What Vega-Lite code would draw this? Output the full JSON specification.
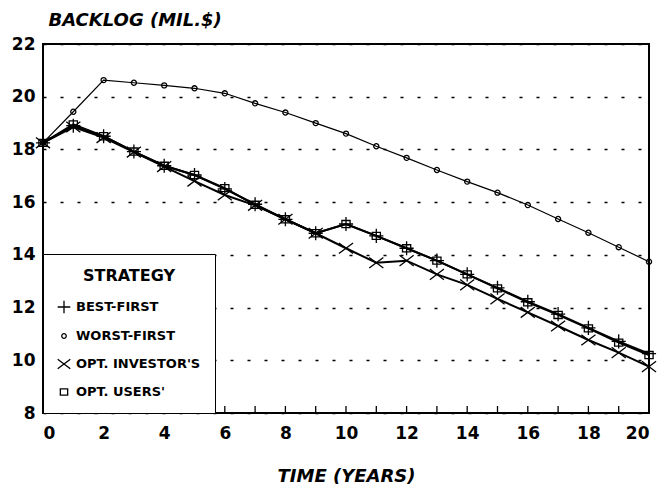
{
  "$schema": "https://vega.github.io/schema/vega-lite/v6.json",
  "width": 606,
  "height": 369,
  "autosize": {"type": "none"},
  "padding": {"left": 43, "top": 44, "right": 22, "bottom": 74},
  "background": "white",
  "config": {
    "view": {"stroke": "black", "strokeWidth": 2},
    "font": "DejaVu Sans"
  },
  "data": {
    "values": [
      {"t":0,"s":"WORST-FIRST","v":18.25},{"t":1,"s":"WORST-FIRST","v":19.43},{"t":2,"s":"WORST-FIRST","v":20.63},{"t":3,"s":"WORST-FIRST","v":20.53},{"t":4,"s":"WORST-FIRST","v":20.43},{"t":5,"s":"WORST-FIRST","v":20.32},{"t":6,"s":"WORST-FIRST","v":20.13},{"t":7,"s":"WORST-FIRST","v":19.75},{"t":8,"s":"WORST-FIRST","v":19.4},{"t":9,"s":"WORST-FIRST","v":19.0},{"t":10,"s":"WORST-FIRST","v":18.6},{"t":11,"s":"WORST-FIRST","v":18.12},{"t":12,"s":"WORST-FIRST","v":17.68},{"t":13,"s":"WORST-FIRST","v":17.22},{"t":14,"s":"WORST-FIRST","v":16.78},{"t":15,"s":"WORST-FIRST","v":16.36},{"t":16,"s":"WORST-FIRST","v":15.89},{"t":17,"s":"WORST-FIRST","v":15.36},{"t":18,"s":"WORST-FIRST","v":14.84},{"t":19,"s":"WORST-FIRST","v":14.29},{"t":20,"s":"WORST-FIRST","v":13.74},
      {"t":0,"s":"BEST-FIRST","v":18.25},{"t":1,"s":"BEST-FIRST","v":18.9},{"t":2,"s":"BEST-FIRST","v":18.5},{"t":3,"s":"BEST-FIRST","v":17.92},{"t":4,"s":"BEST-FIRST","v":17.38},{"t":5,"s":"BEST-FIRST","v":17.03},{"t":6,"s":"BEST-FIRST","v":16.5},{"t":7,"s":"BEST-FIRST","v":15.92},{"t":8,"s":"BEST-FIRST","v":15.35},{"t":9,"s":"BEST-FIRST","v":14.82},{"t":10,"s":"BEST-FIRST","v":15.17},{"t":11,"s":"BEST-FIRST","v":14.72},{"t":12,"s":"BEST-FIRST","v":14.25},{"t":13,"s":"BEST-FIRST","v":13.78},{"t":14,"s":"BEST-FIRST","v":13.26},{"t":15,"s":"BEST-FIRST","v":12.75},{"t":16,"s":"BEST-FIRST","v":12.22},{"t":17,"s":"BEST-FIRST","v":11.75},{"t":18,"s":"BEST-FIRST","v":11.23},{"t":19,"s":"BEST-FIRST","v":10.72},{"t":20,"s":"BEST-FIRST","v":10.25},
      {"t":0,"s":"OPT. INVESTOR'S","v":18.25},{"t":1,"s":"OPT. INVESTOR'S","v":18.85},{"t":2,"s":"OPT. INVESTOR'S","v":18.45},{"t":3,"s":"OPT. INVESTOR'S","v":17.9},{"t":4,"s":"OPT. INVESTOR'S","v":17.35},{"t":5,"s":"OPT. INVESTOR'S","v":16.8},{"t":6,"s":"OPT. INVESTOR'S","v":16.27},{"t":7,"s":"OPT. INVESTOR'S","v":15.88},{"t":8,"s":"OPT. INVESTOR'S","v":15.35},{"t":9,"s":"OPT. INVESTOR'S","v":14.82},{"t":10,"s":"OPT. INVESTOR'S","v":14.25},{"t":11,"s":"OPT. INVESTOR'S","v":13.7},{"t":12,"s":"OPT. INVESTOR'S","v":13.78},{"t":13,"s":"OPT. INVESTOR'S","v":13.26},{"t":14,"s":"OPT. INVESTOR'S","v":12.86},{"t":15,"s":"OPT. INVESTOR'S","v":12.33},{"t":16,"s":"OPT. INVESTOR'S","v":11.82},{"t":17,"s":"OPT. INVESTOR'S","v":11.3},{"t":18,"s":"OPT. INVESTOR'S","v":10.77},{"t":19,"s":"OPT. INVESTOR'S","v":10.29},{"t":20,"s":"OPT. INVESTOR'S","v":9.76},
      {"t":0,"s":"OPT. USERS'","v":18.25},{"t":1,"s":"OPT. USERS'","v":18.95},{"t":2,"s":"OPT. USERS'","v":18.5},{"t":3,"s":"OPT. USERS'","v":17.92},{"t":4,"s":"OPT. USERS'","v":17.38},{"t":5,"s":"OPT. USERS'","v":17.03},{"t":6,"s":"OPT. USERS'","v":16.53},{"t":7,"s":"OPT. USERS'","v":15.9},{"t":8,"s":"OPT. USERS'","v":15.35},{"t":9,"s":"OPT. USERS'","v":14.82},{"t":10,"s":"OPT. USERS'","v":15.17},{"t":11,"s":"OPT. USERS'","v":14.72},{"t":12,"s":"OPT. USERS'","v":14.25},{"t":13,"s":"OPT. USERS'","v":13.78},{"t":14,"s":"OPT. USERS'","v":13.26},{"t":15,"s":"OPT. USERS'","v":12.73},{"t":16,"s":"OPT. USERS'","v":12.2},{"t":17,"s":"OPT. USERS'","v":11.72},{"t":18,"s":"OPT. USERS'","v":11.21},{"t":19,"s":"OPT. USERS'","v":10.67},{"t":20,"s":"OPT. USERS'","v":10.2}
    ]
  },
  "encoding": {
    "x": {
      "field": "t", "type": "quantitative",
      "scale": {"domain": [0, 20], "nice": false, "zero": false},
      "axis": {
        "title": "TIME (YEARS)",
        "titleFont": "DejaVu Sans", "titleFontSize": 18, "titleFontWeight": "bold", "titleFontStyle": "italic", "titleColor": "black",
        "titlePadding": 26,
        "values": [0,2,4,6,8,10,12,14,16,18,20],
        "labelFont": "DejaVu Sans", "labelFontSize": 17, "labelFontWeight": "bold", "labelColor": "black",
        "labelPadding": 12, "ticks": false,
        "domain": false, "grid": false
      }
    },
    "y": {
      "field": "v", "type": "quantitative",
      "scale": {"domain": [8, 22], "nice": false, "zero": false},
      "axis": {
        "title": "BACKLOG (MIL.$)",
        "titleFont": "DejaVu Sans", "titleFontSize": 18, "titleFontWeight": "bold", "titleFontStyle": "italic", "titleColor": "black",
        "titleAngle": 0, "titleAlign": "left", "titleBaseline": "alphabetic", "titleX": 5, "titleY": -19,
        "values": [8,10,12,14,16,18,20,22],
        "labelFont": "DejaVu Sans", "labelFontSize": 17, "labelFontWeight": "bold", "labelColor": "black",
        "labelPadding": 8, "ticks": false, "domain": false,
        "grid": true, "gridColor": "black", "gridDash": [3, 14], "gridWidth": 1.3
      }
    }
  },
  "layer": [
    {
      "transform": [{"filter": "datum.s == 'WORST-FIRST'"}],
      "mark": {"type": "tick", "color": "black", "orient": "vertical", "size": 7, "thickness": 1.3, "yOffset": -3.5, "opacity": 1},
      "encoding": {"y": {"datum": 8}}
    },
    {
      "transform": [{"filter": "datum.s == 'WORST-FIRST'"}],
      "mark": {"type": "line", "color": "black", "strokeWidth": 1.2},
      "encoding": {"detail": {"field": "s"}}
    },
    {
      "transform": [{"filter": "datum.s != 'WORST-FIRST'"}],
      "mark": {"type": "line", "color": "black", "strokeWidth": 2},
      "encoding": {"detail": {"field": "s"}}
    },
    {
      "mark": {"type": "point", "filled": false, "color": "black", "strokeWidth": 1.3, "opacity": 1, "size": 200},
      "encoding": {
        "shape": {
          "field": "s", "type": "nominal",
          "scale": {
            "domain": ["BEST-FIRST", "WORST-FIRST", "OPT. INVESTOR'S", "OPT. USERS'"],
            "range": [
              "M-1,0H1M0,-1V1",
              "M-0.36,0A0.36,0.36 0 1,0 0.36,0A0.36,0.36 0 1,0 -0.36,0Z",
              "M-1,-0.75L1,0.75M-1,0.75L1,-0.75",
              "M-0.58,-0.5H0.58V0.5H-0.58Z"
            ]
          },
          "legend": {
            "title": "STRATEGY",
            "orient": "bottom-left", "offset": 0,
            "strokeColor": "black", "fillColor": "white",
            "padding": 14,
            "titleFont": "DejaVu Sans", "titleFontSize": 16, "titleFontWeight": "bold", "titleColor": "black",
            "titleAnchor": "middle", "titlePadding": 16,
            "labelFont": "DejaVu Sans", "labelFontSize": 13, "labelFontWeight": "bold", "labelColor": "black",
            "labelOffset": 5, "rowPadding": 13,
            "symbolSize": 160, "symbolStrokeColor": "black", "symbolStrokeWidth": 1.3, "symbolFillColor": "transparent",
            "labelLimit": 300
          }
        }
      }
    }
  ]
}
